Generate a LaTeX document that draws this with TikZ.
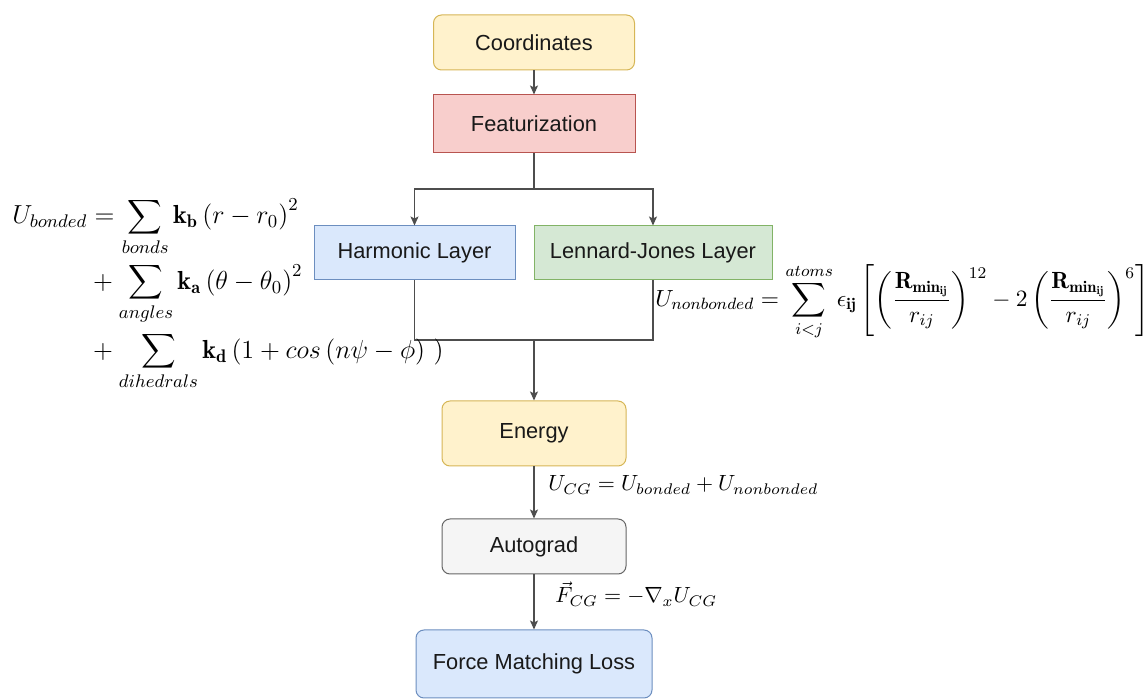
\RequirePackage{fix-cm}
\documentclass[tikz,border=0pt]{standalone}
\usepackage{amsmath}
\usepackage{fontspec}
\setsansfont{Liberation Sans}
\usetikzlibrary{arrows.meta}
\definecolor{ylwF}{HTML}{FFF2CC}\definecolor{ylwD}{HTML}{D6B656}
\definecolor{redF}{HTML}{F8CECC}\definecolor{redD}{HTML}{B85450}
\definecolor{bluF}{HTML}{DAE8FC}\definecolor{bluD}{HTML}{6C8EBF}
\definecolor{grnF}{HTML}{D5E8D4}\definecolor{grnD}{HTML}{82B366}
\definecolor{gryF}{HTML}{F5F5F5}\definecolor{gryD}{HTML}{666666}
\definecolor{lineC}{HTML}{4D4D4D}
\tikzset{
  boxbase/.style={draw, line width=0.5pt, inner sep=0pt, font=\sffamily\fontsize{10.9}{12}\selectfont, text=black!90},
  ylwbox/.style={boxbase, fill=ylwF, draw=ylwD},
  redbox/.style={boxbase, fill=redF, draw=redD},
  blubox/.style={boxbase, fill=bluF, draw=bluD},
  grnbox/.style={boxbase, fill=grnF, draw=grnD},
  grybox/.style={boxbase, fill=gryF, draw=gryD},
  conn/.style={draw=lineC, line width=0.65pt},
  arr/.style={conn, -{Stealth[length=4.5pt,width=4pt,inset=1pt]}},
  eqn/.style={inner sep=0pt, font=\fontsize{11.0}{13.5}\selectfont},
  eqbig/.style={inner sep=0pt, font=\fontsize{13.05}{15.5}\selectfont},
  eqright/.style={inner sep=0pt, font=\fontsize{11.7}{14}\selectfont},
}
\begin{document}
\begin{tikzpicture}[x=0.5pt,y=-0.5pt]
\useasboundingbox (0,0) rectangle (1148,700);
% boxes: defined by corners in px
\node[ylwbox, rounded corners=4pt, minimum width=100.5pt, minimum height=27.5pt] (coord) at (534,42.5) {Coordinates};
\node[redbox, minimum width=101pt, minimum height=29pt] (feat) at (534,124) {Featurization};
\node[blubox, minimum width=100.5pt, minimum height=27pt] (harm) at (414.5,253) {Harmonic Layer};
\node[grnbox, minimum width=119pt, minimum height=27pt] (lj) at (653,253) {Lennard-Jones Layer};
\node[ylwbox, rounded corners=4pt, minimum width=92pt, minimum height=32.5pt] (energy) at (534,433.5) {Energy};
\node[grybox, rounded corners=4pt, minimum width=92pt, minimum height=27.5pt] (auto) at (534,546.5) {Autograd};
\node[blubox, rounded corners=4pt, minimum width=118pt, minimum height=34pt] (fml) at (534,664) {Force Matching Loss};
% helper coordinates
\coordinate (split) at (534,189);
\coordinate (merge) at (534,340);
% connectors
\draw[arr] (coord) -- (feat);
\draw[conn] (feat) -- (split);
\draw[arr] (split) -| (harm.north);
\draw[arr] (split) -| (lj.north);
\draw[conn] (harm.south) |- (merge);
\draw[conn] (lj.south) |- (merge);
\draw[arr] (merge) -- (energy);
\draw[arr] (energy) -- (auto);
\draw[arr] (auto) -- (fml);
% equations
\node[eqbig, anchor=west] (ebond) at (12,294) {$\displaystyle
\begin{aligned}
U_{bonded} &= \sum_{bonds} \mathbf{k_b}\left(r-r_0\right)^2\\
&+\sum_{angles}\mathbf{k_a}\left(\theta-\theta_0\right)^2\\
&+\sum_{dihedrals}\mathbf{k_d}\left(1+cos\left(n\psi-\phi\right)\ \right)
\end{aligned}$};
\node[eqright, anchor=west] (enb) at (655,302) {$\displaystyle
U_{nonbonded}=\sum_{i<j}^{atoms}\epsilon_{\mathbf{ij}}\left[\left(\frac{\mathbf{R_{min_{ij}}}}{r_{ij}}\right)^{12}-2\left(\frac{\mathbf{R_{min_{ij}}}}{r_{ij}}\right)^{6}\right]$};
\node[eqn, anchor=west] (ucg) at (548,485) {$U_{CG}=U_{bonded}+U_{nonbonded}$};
\node[eqn, anchor=west] (fcg) at (555,594) {$\vec{F}_{CG}=-\nabla_x U_{CG}$};
\end{tikzpicture}
\end{document}
